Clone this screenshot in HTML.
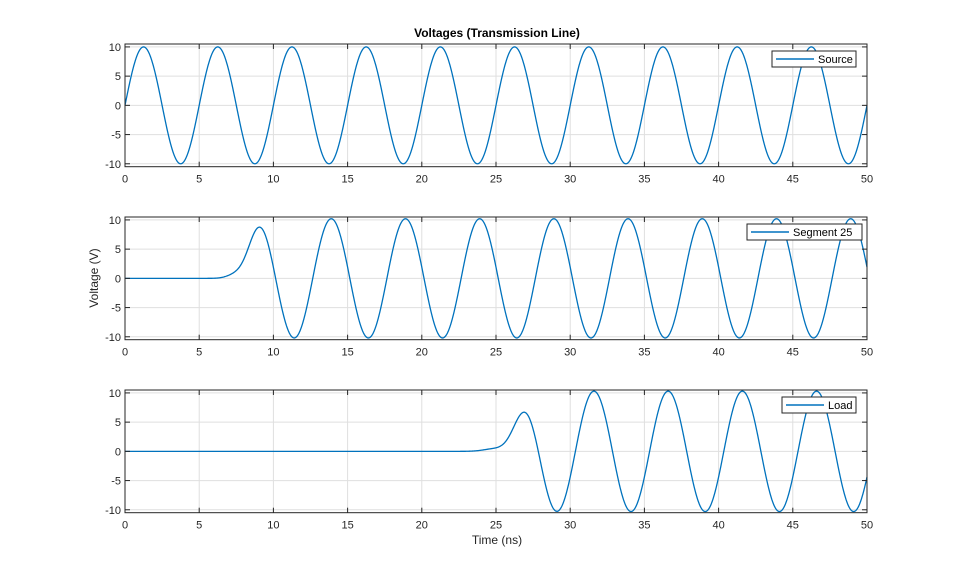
<!DOCTYPE html>
<html><head><style>
body{margin:0;background:#fff;}
svg{display:block;font-family:"Liberation Sans",Arial,sans-serif;}
</style></head><body>
<svg id="s" width="959" height="577" xmlns="http://www.w3.org/2000/svg"></svg>
<script>
const s=document.getElementById('s');
let h='<rect width="959" height="577" fill="#fff"/>';
const X0=125,X1=867;
const axes=[{top:44,bot:166.7,name:'Source',lx:772,lw:84},
{top:217,bot:339.7,name:'Segment 25',lx:747,lw:115},
{top:390,bot:512.7,name:'Load',lx:782,lw:74}];
function erf(x){const t=1/(1+0.3275911*Math.abs(x));const y=1-(((((1.061405429*t-1.453152027)*t)+1.421413741)*t-0.284496736)*t+0.254829592)*t*Math.exp(-x*x);return x>=0?y:-y;}
function cdf(x){return 0.5*(1+erf(x/Math.SQRT2));}
const g=(t,c,w)=>Math.exp(-0.5*((t-c)/w)**2);
const f=[
t=>10*Math.sin(2*Math.PI*t/5),
t=>10.2*Math.sin(2*Math.PI*(t-7.65)/5)*cdf((t-8.1)/0.85)+1.8*g(t,7.5,0.6),
t=>10.3*Math.sin(2*Math.PI*(t-0.35)/5)*cdf((t-26.4)/1.0)+1.0*g(t,25.2,0.75)];
axes.forEach((a,i)=>{
 const sx=t=>X0+(t/50)*(X1-X0);
 const sy=v=>a.top+(10.5-v)/21*(a.bot-a.top);
 for(let t=0;t<=50;t+=5){const x=sx(t);h+=`<line x1="${x}" y1="${a.top}" x2="${x}" y2="${a.bot}" stroke="#dfdfdf" stroke-width="1"/>`;}
 for(let v=-10;v<=10;v+=5){const y=sy(v);h+=`<line x1="${X0}" y1="${y}" x2="${X1}" y2="${y}" stroke="#dfdfdf" stroke-width="1"/>`;}
 let p='';for(let k=0;k<=2000;k++){const t=k*50/2000;let v=f[i](t);p+=(k?'L':'M')+sx(t).toFixed(2)+','+Math.max(a.top,Math.min(a.bot,sy(v))).toFixed(2);}
 h+=`<path d="${p}" fill="none" stroke="#0072bd" stroke-width="1.3"/>`;
 h+=`<rect x="${X0}" y="${a.top}" width="${X1-X0}" height="${a.bot-a.top}" fill="none" stroke="#262626" stroke-width="1"/>`;
 for(let t=0;t<=50;t+=5){const x=sx(t);h+=`<line x1="${x}" y1="${a.bot}" x2="${x}" y2="${a.bot-5}" stroke="#262626"/><line x1="${x}" y1="${a.top}" x2="${x}" y2="${a.top+5}" stroke="#262626"/><text x="${x}" y="${a.bot+16}" font-size="11" text-anchor="middle" fill="#262626">${t}</text>`;}
 for(let v=-10;v<=10;v+=5){const y=sy(v);h+=`<line x1="${X0}" y1="${y}" x2="${X0+5}" y2="${y}" stroke="#262626"/><line x1="${X1}" y1="${y}" x2="${X1-5}" y2="${y}" stroke="#262626"/><text x="${X0-4}" y="${y+4}" font-size="11" text-anchor="end" fill="#262626">${v}</text>`;}
 const ly=a.top+7;
 h+=`<rect x="${a.lx}" y="${ly}" width="${a.lw}" height="16" fill="#fff" stroke="#262626" stroke-width="1"/>`;
 h+=`<line x1="${a.lx+4}" y1="${ly+8}" x2="${a.lx+42}" y2="${ly+8}" stroke="#0072bd" stroke-width="1.4"/>`;
 h+=`<text x="${a.lx+46}" y="${ly+12}" font-size="11" fill="#000">${a.name}</text>`;
});
h+=`<text x="497" y="37" font-size="12" font-weight="bold" text-anchor="middle" fill="#000">Voltages (Transmission Line)</text>`;
h+=`<text x="497" y="544" font-size="12" text-anchor="middle" fill="#262626">Time (ns)</text>`;
h+=`<text transform="translate(98,278) rotate(-90)" font-size="12" text-anchor="middle" fill="#262626">Voltage (V)</text>`;
s.innerHTML=h;
</script>
</body></html>
